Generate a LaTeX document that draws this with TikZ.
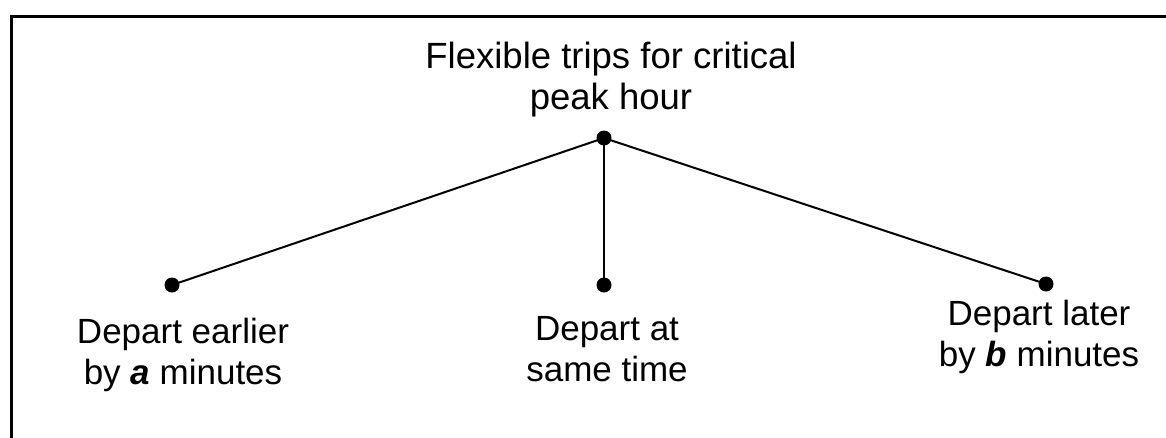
\documentclass[tikz,border=0pt]{standalone}
\usepackage{fontspec}
\setmainfont{Liberation Sans}
\begin{document}
\begin{tikzpicture}[x=1pt,y=-1pt,
  dot/.style={circle,fill=black,inner sep=0pt,minimum size=15pt},
  lbl/.style={align=center,font=\fontsize{35}{41}\selectfont,inner sep=0pt,anchor=base},
  conn/.style={line width=2pt},
  frame/.style={line width=3pt}]
\useasboundingbox (0,0) rectangle (1166,437);
\coordinate (fa) at (11.5,440);
\coordinate (fb) at (11.5,16.5);
\coordinate (fc) at (1170,16.5);
\draw[frame] (fa) -- (fb) -- (fc);
\node[lbl,font=\fontsize{36.5}{41}\selectfont] (title) at (611,109) {Flexible trips for critical\\peak hour};
\node[dot] (r) at (604,138) {};
\node[dot] (l) at (172,285) {};
\node[dot] (m) at (604,285) {};
\node[dot] (rr) at (1046,284) {};
\draw[conn] (r.center) -- (l.center);
\draw[conn] (r.center) -- (m.center);
\draw[conn] (r.center) -- (rr.center);
\node[lbl] (tl) at (183,384) {Depart earlier\\by \textbf{\textit{a}} minutes};
\node[lbl] (tm) at (607,381) {Depart at\\same time};
\node[lbl] (tr) at (1039,366) {Depart later\\by \textbf{\textit{b}} minutes};
\end{tikzpicture}
\end{document}
